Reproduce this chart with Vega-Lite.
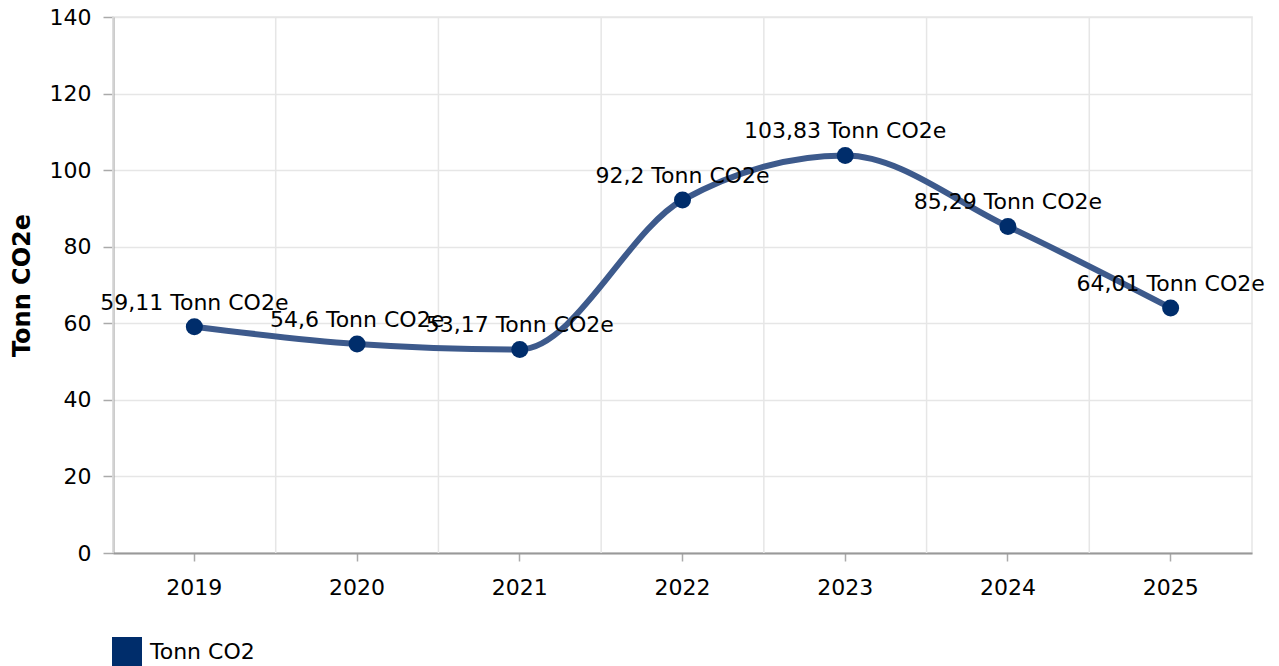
{
  "$schema": "https://vega.github.io/schema/vega-lite/v6.json",
  "width": 1139,
  "height": 536,
  "autosize": {"type": "none"},
  "padding": {"left": 113, "top": 17, "right": 27, "bottom": 113},
  "background": "white",
  "config": {
    "font": "DejaVu Sans",
    "view": {"stroke": "#e6e6e6", "strokeWidth": 1.5},
    "axis": {"labelFont": "DejaVu Sans", "titleFont": "DejaVu Sans", "labelColor": "#000", "titleColor": "#000"}
  },
  "data": {
    "values": [
      {"year": "2019", "value": 59.11, "label": "59,11 Tonn CO2e", "series": "Tonn CO2"},
      {"year": "2020", "value": 54.6, "label": "54,6 Tonn CO2e", "series": "Tonn CO2"},
      {"year": "2021", "value": 53.17, "label": "53,17 Tonn CO2e", "series": "Tonn CO2"},
      {"year": "2022", "value": 92.2, "label": "92,2 Tonn CO2e", "series": "Tonn CO2"},
      {"year": "2023", "value": 103.83, "label": "103,83 Tonn CO2e", "series": "Tonn CO2"},
      {"year": "2024", "value": 85.29, "label": "85,29 Tonn CO2e", "series": "Tonn CO2"},
      {"year": "2025", "value": 64.01, "label": "64,01 Tonn CO2e", "series": "Tonn CO2"}
    ]
  },
  "encoding": {
    "x": {
      "field": "year", "type": "ordinal", "bandPosition": 0.5,
      "scale": {"type": "band", "paddingInner": 0, "paddingOuter": 0},
      "axis": {
        "title": null, "labelAngle": 0, "labelFontSize": 22, "labelPadding": 16,
        "tickSize": 8, "tickColor": "#aaa", "tickWidth": 1.5, "domainColor": "#999", "domainWidth": 2,
        "grid": false
      }
    },
    "y": {
      "field": "value", "type": "quantitative",
      "scale": {"domain": [0, 140], "nice": false},
      "axis": {
        "title": "Tonn CO2e", "titleFontSize": 24, "titleFontWeight": "bold",
        "titleAngle": -90, "titleX": -91, "titleY": 268, "titleAlign": "center", "titleBaseline": "middle",
        "values": [0, 20, 40, 60, 80, 100, 120, 140],
        "labelFontSize": 22, "labelPadding": 12, "tickSize": 10, "tickColor": "#aaa", "tickWidth": 1.5,
        "domainColor": "#999", "domainWidth": 2,
        "grid": true, "gridColor": "#e6e6e6", "gridWidth": 1.5
      }
    }
  },
  "layer": [
    {
      "mark": {"type": "rule", "color": "#e6e6e6", "strokeWidth": 1.5},
      "encoding": {
        "x": {"field": "year", "type": "ordinal", "bandPosition": 0},
        "y": null
      }
    },
    {
      "mark": {"type": "line", "color": "#3d5a8c", "strokeWidth": 6, "interpolate": "monotone"}
    },
    {
      "mark": {"type": "point", "filled": true, "opacity": 1, "size": 290},
      "encoding": {
        "color": {
          "field": "series", "type": "nominal",
          "scale": {"domain": ["Tonn CO2"], "range": ["#002d6b"]},
          "legend": {
            "title": null, "orient": "none", "legendX": -1, "legendY": 620,
            "symbolType": "square", "symbolSize": 900, "symbolStrokeWidth": 0,
            "labelFontSize": 22, "labelColor": "#000", "labelOffset": 8, "padding": 0
          }
        }
      }
    },
    {
      "mark": {"type": "text", "fontSize": 22, "color": "#000", "dy": -17, "baseline": "alphabetic", "align": "center"},
      "encoding": {"text": {"field": "label"}}
    }
  ]
}
